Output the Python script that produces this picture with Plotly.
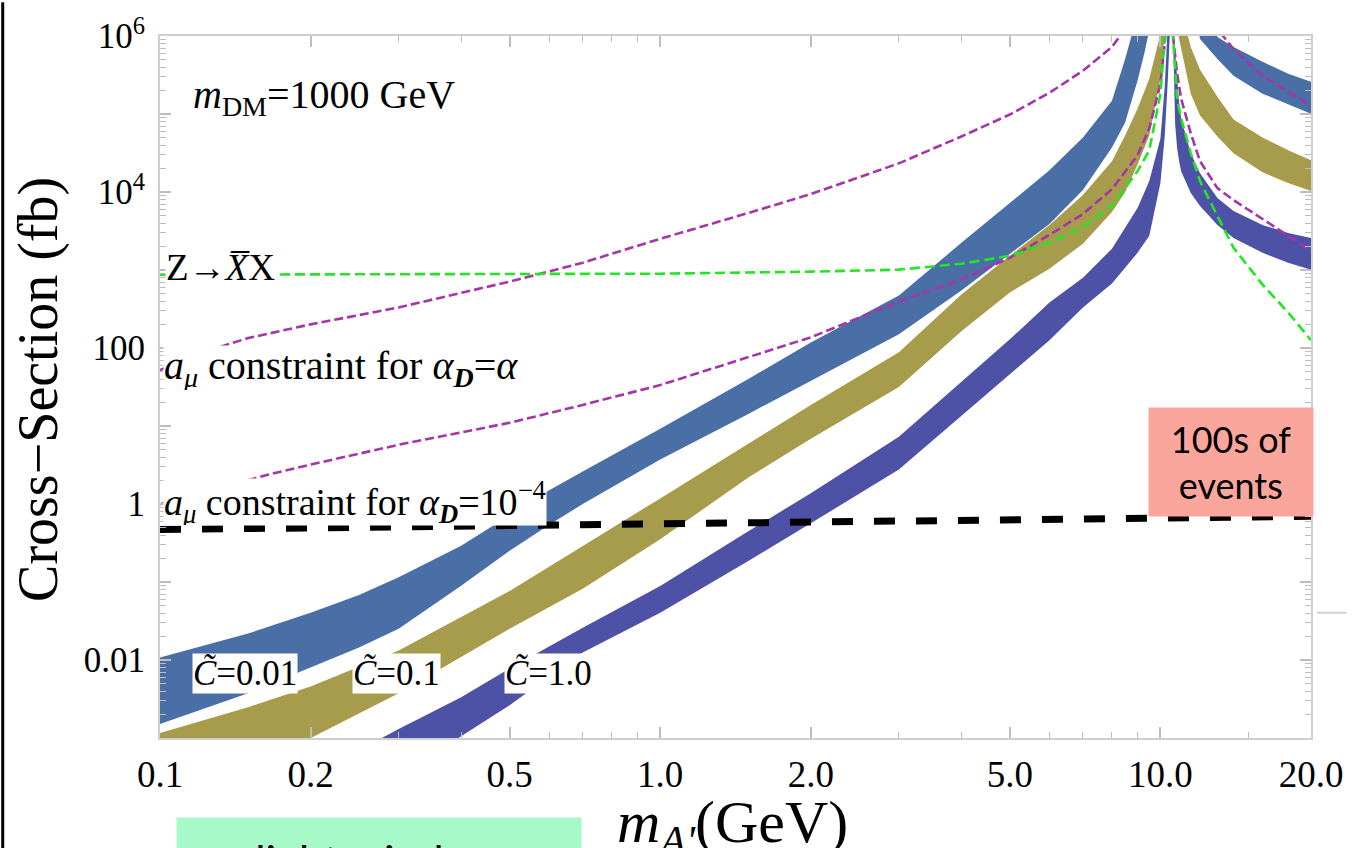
import math
import plotly.graph_objects as go

# ---------------------------------------------------------------
# Cross-section bands vs dark photon mass (m_DM = 1000 GeV)
# ---------------------------------------------------------------

# C~ = 0.01 band, below the resonance
blue_left_x_up = [0.1, 0.15, 0.2, 0.25, 0.3, 0.4, 0.5, 0.6, 0.7, 1.0, 1.5, 2.0, 3.0, 4.0, 5.0, 6.0, 7.0, 8.0,
                  8.5, 9.0]
blue_left_up = [0.0108, 0.0218, 0.0404, 0.0680, 0.115, 0.292, 0.720, 1.50, 2.61, 9.24, 40.0, 118, 471, 2230,
                7210, 19000, 50100, 148000, 509000, 1.9e6]
blue_left_x_dn = [0.1, 0.15, 0.2, 0.25, 0.3, 0.4, 0.5, 0.6, 0.7, 1.0, 1.5, 2.0, 3.0, 4.0, 5.0, 6.0, 7.0, 8.0,
                  8.5, 9.0, 9.3, 9.6]
blue_left_dn = [0.00151, 0.00374, 0.00802, 0.0145, 0.0252, 0.0893, 0.251, 0.541, 1.00, 3.71, 14.3, 37.7, 150,
                545, 1610, 3900, 10600, 37300, 77800, 267000, 625000, 1.65e6]
# C~ = 0.01 band, above the resonance
blue_right_x_up = [12.3, 13, 14, 16, 18, 20]
blue_right_up = [3.4e6, 970000, 724000, 467000, 328000, 259000]
blue_right_x_dn = [11.5, 12, 13, 14, 16, 18, 20]
blue_right_dn = [3.4e6, 916000, 509000, 309000, 182000, 132000, 101000]

# C~ = 0.1 band
olive_left_x_up = [0.1, 0.15, 0.2, 0.3, 0.5, 0.7, 1.0, 1.5, 2.0, 3.0, 4.0, 5.0, 6.0, 7.0, 8.0, 8.5, 9.0, 9.5,
                   10.0, 10.2]
olive_left_up = [0.00116, 0.00248, 0.00459, 0.0132, 0.0769, 0.288, 1.18, 5.93, 18.6, 88.3, 484, 1520, 3780,
                 9120, 24800, 53100, 117000, 283000, 1.06e6, 4.6e6]
olive_left_x_dn = [0.1, 0.15, 0.2, 0.3, 0.5, 0.7, 1.0, 1.5, 2.0, 3.0, 4.0, 5.0, 6.0, 7.0, 8.0, 8.5, 9.0, 9.5,
                   10.0, 10.2, 10.4]
olive_left_dn = [0.000162, 0.00039, 0.001, 0.00374, 0.0252, 0.0817, 0.354, 2.18, 6.87, 31.6, 164, 514, 1040,
                 2170, 5530, 9950, 22600, 53100, 283000, 1.06e6, 4.6e6]
olive_right_x_up = [11.0, 11.5, 12, 13, 14, 16, 18, 20]
olive_right_up = [2.2e6, 724000, 369000, 167000, 84900, 50100, 34200, 25500]
olive_right_x_dn = [10.8, 10.9, 11.0, 11.5, 12, 13, 14, 16, 18, 20]
olive_right_dn = [2.9e6, 916000, 682000, 182000, 95500, 51500, 31300, 17900, 13000, 10300]

# C~ = 1.0 band
indigo_left_x_up = [0.25, 0.3, 0.4, 0.5, 0.7, 1.0, 1.5, 2.0, 3.0, 4.0, 5.0, 6.0, 7.0, 8.0, 9.0, 9.5, 10.0,
                    10.2, 10.35, 10.45]
indigo_left_up = [0.0007, 0.0013, 0.00333, 0.0078, 0.0259, 0.0891, 0.448, 1.37, 7.28, 36.6, 129, 383, 798,
                  1870, 6220, 13800, 48600, 224000, 1.06e6, 5e6]
indigo_left_x_dn = [0.35, 0.4, 0.5, 0.7, 1.0, 1.5, 2.0, 3.0, 4.0, 5.0, 6.0, 7.0, 8.0, 9.0, 9.5, 10.0, 10.2,
                    10.35, 10.45, 10.55]
indigo_left_dn = [0.00061, 0.00106, 0.00263, 0.0125, 0.0404, 0.186, 0.566, 2.77, 13.5, 46.3, 126, 331, 670,
                  1660, 2740, 13000, 51500, 283000, 916000, 5e6]
indigo_right_x_up = [10.6, 10.7, 10.8, 10.9, 11.0, 11.5, 12, 13, 14, 16, 18, 20]
indigo_right_up = [1.42e6, 590000, 244000, 136000, 87500, 31300, 17400, 8360, 5700, 3780, 2990, 2580]
indigo_right_x_dn = [10.6, 10.65, 10.7, 10.8, 10.9, 11.0, 11.5, 12, 13, 14, 16, 18, 20]
indigo_right_dn = [1.06e6, 244000, 75500, 36200, 24800, 18500, 9680, 6610, 3780, 2580, 1660, 1240, 1010]

# Z -> X-bar X constraint
green_left_x = [0.1, 0.5, 1.0, 2.0, 3.0, 4.0, 5.0, 6.0, 7.0, 8.0, 9.0, 9.5, 10.0, 10.2, 10.3]
green_left_y = [871, 890, 897, 952, 1010, 1205, 1520, 2230, 3560, 6610, 18500, 34200, 182000, 970000, 3.4e6]
green_right_x = [10.55, 10.6, 10.8, 11.0, 11.5, 12, 13, 14, 16, 18, 20]
green_right_y = [1.9e6, 970000, 157000, 87500, 31300, 13800, 4920, 1930, 650, 286, 126]

# a_mu constraint, alpha_D = alpha
purple_hi_left_x = [0.1, 0.12, 0.15, 0.2, 0.3, 0.5, 0.7, 1.0, 1.5, 2.0, 3.0, 4.0, 5.0, 6.0, 7.0, 8.0, 8.5]
purple_hi_left_y = [52, 86, 134, 201, 331, 710, 1240, 2510, 5380, 9400, 23300, 51500, 98400, 187000,
                    358000, 724000, 1.23e6]
purple_hi_right_x = [12.5, 13, 14, 16, 18, 20]
purple_hi_right_y = [2.2e6, 1.23e6, 680000, 309000, 193000, 128000]

# a_mu constraint, alpha_D = 1e-4
purple_lo_left_x = [0.1, 0.165, 0.2, 0.3, 0.5, 0.7, 1.0, 1.5, 2.0, 3.0, 4.0, 5.0, 6.0, 7.0, 8.0, 9.0, 9.5,
                    10.0, 10.2, 10.3]
purple_lo_left_y = [0.99, 2.39, 3.20, 5.75, 11.0, 18.6, 33.5, 76.2, 137, 394, 753, 1436, 2820, 5220, 10900,
                    29500, 65200, 244000, 790000, 1.9e6]
purple_lo_right_x = [10.55, 10.6, 10.8, 11.0, 11.5, 12, 13, 14, 16, 18, 20]
purple_lo_right_y = [2.2e6, 970000, 328000, 157000, 56400, 24800, 11200, 7870, 4510, 2740, 1760]

# "100s of events" threshold
events_x = [0.1, 20]
events_y = [0.47, 0.695]

# axis ticks
x_tick_vals = [0.1, 0.2, 0.5, 1.0, 2.0, 5.0, 10.0, 20.0]
x_tick_text = ["0.1", "0.2", "0.5", "1.0", "2.0", "5.0", "10.0", "20.0"]
x_minor_vals = [0.3, 0.4, 0.6, 0.7, 0.8, 0.9, 3, 4, 6, 7, 8, 9, 15]
y_tick_vals = [1e-3, 1e-2, 1e-1, 1, 10, 100, 1e3, 1e4, 1e5, 1e6]
y_tick_text = ["", "0.01", "", "1", "", "100", "", "10<sup>4</sup>", "", "10<sup>6</sup>"]
y_minor_vals = [m * 10 ** k for k in range(-3, 6) for m in range(2, 10)]

BLUE = "#4A6EA6"
OLIVE = "#A69C4B"
INDIGO = "#4E52A6"
PURPLE = "#A535A8"
GREEN = "#22E622"
SERIF = "Liberation Serif, Times New Roman, serif"

fig = go.Figure()


def band(xu, yu, xd, yd, color):
    fig.add_trace(go.Scatter(
        x=list(xu) + list(xd)[::-1],
        y=list(yu) + list(yd)[::-1],
        fill="toself", fillcolor=color, mode="lines",
        line=dict(width=0, color=color), hoverinfo="skip", showlegend=False))


band(blue_left_x_up, blue_left_up, blue_left_x_dn, blue_left_dn, BLUE)
band(blue_right_x_up, blue_right_up, blue_right_x_dn, blue_right_dn, BLUE)
band(olive_left_x_up, olive_left_up, olive_left_x_dn, olive_left_dn, OLIVE)
band(olive_right_x_up, olive_right_up, olive_right_x_dn, olive_right_dn, OLIVE)
band(indigo_left_x_up, indigo_left_up, indigo_left_x_dn, indigo_left_dn, INDIGO)
band(indigo_right_x_up, indigo_right_up, indigo_right_x_dn, indigo_right_dn, INDIGO)


def dashed(x, y, color, width, dash):
    fig.add_trace(go.Scatter(x=x, y=y, mode="lines", line=dict(color=color, width=width, dash=dash),
                             hoverinfo="skip", showlegend=False))


dashed(purple_hi_left_x, purple_hi_left_y, PURPLE, 2.6, "9px,4px")
dashed(purple_hi_right_x, purple_hi_right_y, PURPLE, 2.6, "9px,4px")
dashed(purple_lo_left_x, purple_lo_left_y, PURPLE, 2.6, "9px,4px")
dashed(purple_lo_right_x, purple_lo_right_y, PURPLE, 2.6, "9px,4px")
dashed(green_left_x, green_left_y, GREEN, 2.6, "10px,5px")
dashed(green_right_x, green_right_y, GREEN, 2.6, "10px,5px")
dashed(events_x, events_y, "black", 7, "21px,21px")

# plot area geometry (pixels) used to place the text boxes
L, R, T, B = 160, 1320, 32, 738


def px(x):
    return (x - L) / (R - L)


def py(y):
    return (B - y) / (B - T)


def label(text, x, y, size=40, bg="white", height=None):
    fig.add_annotation(text=text, x=px(x), y=py(y), xref="paper", yref="paper",
                       xanchor="left", yanchor="middle", showarrow=False, height=height,
                       valign="middle", font=dict(family=SERIF, size=size, color="black"),
                       bgcolor=bg, borderpad=0)


label("<i>m</i><sub>DM</sub>=1000 GeV", 192, 93, size=40, bg="rgba(0,0,0,0)")
label("Z→<i>X\u0305</i>X", 165, 265, size=37)
label("<i>a</i><sub><i>μ</i></sub> constraint for <i>α</i><sub><b><i>D</i></b></sub>=<i>α</i>", 163, 366,
      height=44)
label("<i>a</i><sub><i>μ</i></sub> constraint for <i>α</i><sub><b><i>D</i></b></sub>=10<sup>−4</sup>", 163, 501,
      size=38, height=46)
label("<i>C\u0303</i>=0.01", 192, 673, size=35)
label("<i>C\u0303</i>=0.1", 354, 673, size=35)
label("<i>C\u0303</i>=1.0", 507, 673, size=35)

# axis titles
fig.add_annotation(text="Cross−Section (fb)", x=px(38), y=py(387), xref="paper", yref="paper",
                   textangle=-90, showarrow=False, xanchor="center", yanchor="middle",
                   font=dict(family=SERIF, size=56, color="black"))
fig.add_annotation(text="<i>m</i><sub><i>A'</i></sub>(GeV)", x=px(737), y=py(827), xref="paper",
                   yref="paper", showarrow=False, xanchor="center", yanchor="middle",
                   font=dict(family=SERIF, size=60, color="black"))

# callout boxes
fig.add_annotation(text="100s of<br>events", x=px(1239), y=py(460), xref="paper", yref="paper",
                   showarrow=False, xanchor="center", yanchor="middle", width=164, height=108,
                   bgcolor="#FBA69C", borderpad=0, align="center",
                   font=dict(family="Lato", size=36, color="black"))
fig.add_annotation(text="light window", x=px(176), y=py(817), xref="paper", yref="paper",
                   showarrow=False, xanchor="left", yanchor="top", width=404, height=86,
                   bgcolor="#A8F9C8", borderpad=0, align="center", valign="middle",
                   font=dict(family="Lato", size=44, color="black"))

# left border of the slide and a stray rule on the right
fig.add_shape(type="line", xref="paper", yref="paper", x0=px(1.5), x1=px(1.5), y0=py(850), y1=py(-2),
              line=dict(color="black", width=3))
fig.add_shape(type="line", xref="paper", yref="paper", x0=px(1326), x1=px(1356), y0=py(612), y1=py(612),
              line=dict(color="#D0D0D0", width=2))

axis_common = dict(type="log", ticks="inside", ticklen=11, tickwidth=1.5, tickcolor="#BDBDBD",
                   showline=True, linecolor="#CFCFCF", linewidth=2, mirror="ticks",
                   showgrid=False, zeroline=False)

fig.update_layout(
    width=1355, height=848, autosize=False,
    margin=dict(l=L, r=1355 - R, t=T, b=848 - B),
    paper_bgcolor="white", plot_bgcolor="white",
    xaxis=dict(range=[-1, math.log10(20)], tickmode="array", tickvals=x_tick_vals, ticktext=x_tick_text,
               tickfont=dict(family=SERIF, size=37, color="black"), ticklabelstandoff=3,
               minor=dict(ticks="inside", ticklen=6, tickcolor="#BDBDBD", tickwidth=1.2,
                          tickmode="array", tickvals=x_minor_vals, showgrid=False),
               **axis_common),
    yaxis=dict(range=[-3, 6], tickmode="array", tickvals=y_tick_vals, ticktext=y_tick_text,
               tickfont=dict(family=SERIF, size=35, color="black"), ticklabelstandoff=6,
               minor=dict(ticks="inside", ticklen=6, tickcolor="#BDBDBD", tickwidth=1.2,
                          tickmode="array", tickvals=y_minor_vals, showgrid=False),
               **axis_common),
    showlegend=False,
)

fig.write_html("out.html")
